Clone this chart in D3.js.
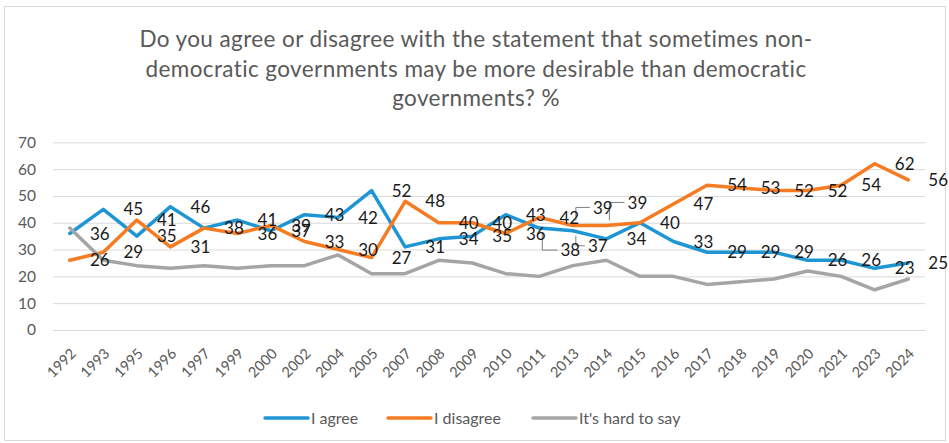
<!DOCTYPE html>
<html>
<head>
<meta charset="utf-8">
<script src="https://cdn.jsdelivr.net/npm/d3@7"></script>
<style>
  body { margin: 0; background: #fff; }
  svg { display: block; font-family: Lato, "Open Sans", sans-serif; }
</style>
</head>
<body>
<svg id="chart"></svg>
<script>
// survey years (category axis)
var years = ["1992","1993","1995","1996","1997","1999","2000","2002","2004","2005",
  "2007","2008","2009","2010","2011","2013","2014","2015","2016","2017",
  "2018","2019","2020","2021","2023","2024"];

var agree    = [36,45,35,46,38,41,37,43,42,52,31,34,35,43,38,37,34,40,33,29,29,29,26,26,23,25];
var disagree = [26,29,41,31,38,36,39,33,30,27,48,40,40,36,42,39,39,40,47,54,53,52,52,54,62,56];
var hardToSay = [38,26,24,23,24,23,24,24,28,21,21,26,25,21,20,24,26,20,20,17,18,19,22,20,15,19];

var yTicks = [0,10,20,30,40,50,60,70];

var titleLines = [
  "Do you agree or disagree with the statement that sometimes non-",
  "democratic governments may be more desirable than democratic",
  "governments? %"
];

var series = [
  { key: "agree", name: "I agree", values: agree, color: "#1f96d4", labels: true },
  { key: "disagree", name: "I disagree", values: disagree, color: "#f57c22", labels: true },
  { key: "hard", name: "It's hard to say", values: hardToSay, color: "#a5a5a5", labels: false }
];

// labels that were dragged off their default spot (with leader lines)
var movedLabels = {
  "agree-2011": { dx: 31, dy: 22 },
  "agree-2013": { dx: 25, dy: 15 },
  "disagree-2013": { dx: 30, dy: -18 },
  "disagree-2014": { dx: 31, dy: -23 }
};
// same value sits exactly under the other series' label
var hiddenLabels = ["agree-1997", "agree-2015"];

drawChart();

function drawChart() {
  var svgWidth = 949, svgHeight = 443;
  var plot = { left: 53, right: 925, top: 142.3, bottom: 330 };

  var svg = d3.select("#chart")
    .attr("width", svgWidth)
    .attr("height", svgHeight);

  // chart area border
  svg.append("rect")
    .attr("x", 4.5).attr("y", 6.5)
    .attr("width", 941).attr("height", 434)
    .attr("fill", "#fff")
    .attr("stroke", "#d9d9d9");

  var x = d3.scalePoint()
    .domain(years)
    .range([plot.left, plot.right])
    .padding(0.5);

  var y = d3.scaleLinear()
    .domain([0, 70])
    .range([plot.bottom, plot.top]);

  // title
  svg.append("text")
    .attr("text-anchor", "middle")
    .attr("fill", "#595959")
    .style("font-size", "22.5px")
    .style("letter-spacing", "0.4px")
    .selectAll("tspan")
    .data(titleLines)
    .enter()
    .append("tspan")
    .attr("x", 476)
    .attr("y", (d, i) => 47 + i * 29.5)
    .text(d => d);

  // y axis + gridlines
  var yAxis = d3.axisLeft(y)
    .tickValues(yTicks)
    .tickSize(-(plot.right - plot.left))
    .tickPadding(17);

  var gy = svg.append("g")
    .attr("transform", `translate(${plot.left},0)`)
    .call(yAxis);
  gy.select(".domain").remove();
  gy.selectAll(".tick line").attr("stroke", "#d9d9d9");
  gy.selectAll(".tick text")
    .attr("fill", "#595959")
    .style("font-size", "15.5px")
    .style("font-family", "Lato, sans-serif");

  // x axis
  var xAxis = d3.axisBottom(x).tickSize(0);
  var gx = svg.append("g")
    .attr("transform", `translate(0,${plot.bottom})`)
    .call(xAxis);
  gx.select(".domain").attr("stroke", "#d9d9d9");
  gx.selectAll(".tick text")
    .attr("fill", "#595959")
    .style("font-size", "14.5px")
    .style("font-family", "Lato, sans-serif")
    .attr("text-anchor", "end")
    .attr("dy", "0.35em")
    .attr("transform", "translate(3,21) rotate(-45)")
    .attr("y", 0)
    .attr("x", 0);

  var line = d3.line()
    .x((d, i) => x(years[i]))
    .y(d => y(d));

  svg.append("g").selectAll("path")
    .data(series)
    .enter()
    .append("path")
    .attr("fill", "none")
    .attr("stroke", d => d.color)
    .attr("stroke-width", 3.5)
    .attr("stroke-linejoin", "round")
    .attr("stroke-linecap", "round")
    .attr("d", d => line(d.values));

  // data labels
  var labelData = [];
  series.filter(s => s.labels).forEach(function(s) {
    s.values.forEach(function(v, i) {
      var id = s.key + "-" + years[i];
      if (hiddenLabels.indexOf(id) >= 0) return;
      var move = movedLabels[id];
      labelData.push({
        px: x(years[i]), py: y(v), value: v,
        dx: move ? move.dx : 30,
        dy: move ? move.dy : 0,
        moved: !!move
      });
    });
  });

  var labels = svg.append("g");

  labels.selectAll("path")
    .data(labelData.filter(d => d.moved))
    .enter()
    .append("path")
    .attr("fill", "none")
    .attr("stroke", "#7f7f7f")
    .attr("stroke-width", 1)
    .attr("d", function(d) {
      var sx = d.px + 3, gap = d.dy > 0 ? 5 : -5;
      return `M${sx},${d.py + gap}V${d.py + d.dy}H${d.px + d.dx - 13}`;
    });

  labels.selectAll("text")
    .data(labelData)
    .enter()
    .append("text")
    .attr("x", d => d.px + d.dx)
    .attr("y", d => d.py + d.dy)
    .attr("dy", "0.36em")
    .attr("text-anchor", "middle")
    .attr("fill", "#1a1a1a")
    .style("font-size", "17px")
    .text(d => d.value);

  // legend
  var legendItems = [
    { s: series[0], x: 265 },
    { s: series[1], x: 388 },
    { s: series[2], x: 533 }
  ];
  var legend = svg.append("g").attr("transform", "translate(0,418)");
  var item = legend.selectAll("g")
    .data(legendItems)
    .enter()
    .append("g")
    .attr("transform", d => `translate(${d.x},0)`);
  item.append("line")
    .attr("x1", 0).attr("x2", 43)
    .attr("stroke", d => d.s.color)
    .attr("stroke-width", 3.5)
    .attr("stroke-linecap", "round");
  item.append("text")
    .attr("x", 46)
    .attr("dy", "0.35em")
    .attr("fill", "#595959")
    .style("font-size", "16px")
    .text(d => d.s.name);
}
</script>
</body>
</html>
